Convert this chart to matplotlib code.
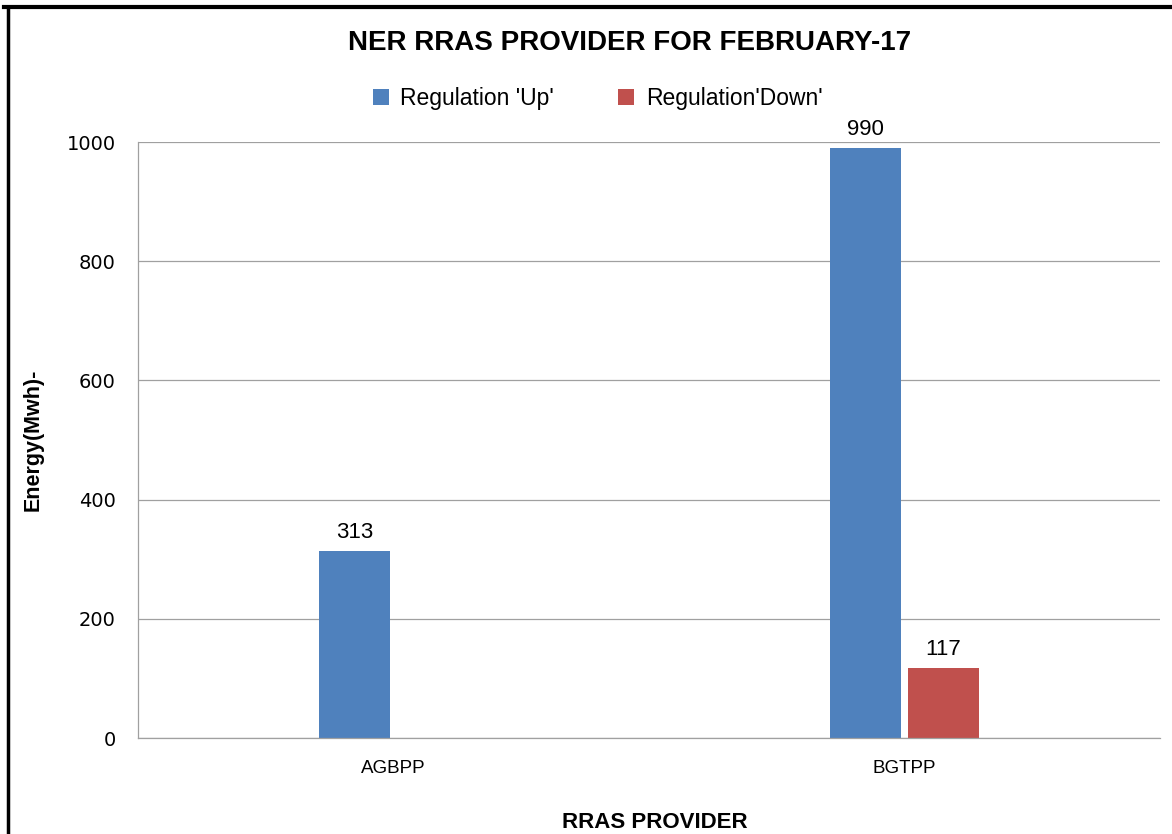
import matplotlib
matplotlib.use("Agg")
import matplotlib.pyplot as plt
from matplotlib.lines import Line2D
import numpy as np

providers = ["AGBPP", "BGTPP"]
reg_up = [313, 990]
reg_down = [0, 117]
series_names = ["Regulation 'Up'", "Regulation'Down'"]
colors = ["#4F81BD", "#C0504D"]

calib = ["Liberation Sans", "DejaVu Sans"]

fig = plt.figure(figsize=(11.72, 8.34), dpi=100)
ax = fig.add_axes([0.1177, 0.1151, 0.8723, 0.7146])

x = np.arange(len(providers))
w = 0.139
off = 0.076
b1 = ax.bar(x - off, reg_up, width=w, color=colors[0], label=series_names[0])
b2 = ax.bar(x + off, reg_down, width=w, color=colors[1], label=series_names[1])

for bars, vals in [(b1, reg_up), (b2, reg_down)]:
    for rect, v in zip(bars, vals):
        if v > 0:
            ax.text(rect.get_x() + rect.get_width() / 2, v + 14, str(v),
                    ha="center", va="bottom", fontsize=16, family=calib)

ax.set_xlim(-0.5, 1.5)
ax.set_ylim(0, 1000)
ax.set_yticks(range(0, 1001, 200))
ax.set_xticks(x)
ax.set_xticklabels(providers, family=calib, fontsize=13.5)
ax.tick_params(axis="y", labelsize=14, length=0, pad=16)
ax.tick_params(axis="x", length=0, pad=16)
for lbl in ax.get_yticklabels():
    lbl.set_family("DejaVu Sans")
ax.yaxis.grid(True, color="#a0a0a0", linewidth=0.9)
ax.set_axisbelow(True)
for s in ["top", "right"]:
    ax.spines[s].set_visible(False)
for s in ["left", "bottom"]:
    ax.spines[s].set_color("#a0a0a0")
    ax.spines[s].set_linewidth(0.9)

ax.set_ylabel("Energy(Mwh)-", fontsize=15.5, fontweight="bold", family=calib)
ax.yaxis.set_label_coords(-0.103, 0.5)
ax.set_xlabel("RRAS PROVIDER", fontsize=16, fontweight="bold", family=calib)
ax.xaxis.set_label_coords(0.506, -0.141)
ax.xaxis.label.set_va("center")
ax.yaxis.label.set_va("center")

fig.text(0.537, 0.949, "NER RRAS PROVIDER FOR FEBRUARY-17", ha="center", va="center",
         fontsize=20, fontweight="bold", family=calib)

leg = fig.legend(loc="center", bbox_to_anchor=(0.51, 0.882), ncol=2, frameon=False,
                 handlelength=0.7, handleheight=0.7, columnspacing=2.8,
                 handletextpad=0.5, prop={"family": calib, "size": 16.5})

# frame around the chart (top and left edges visible)
fig.add_artist(Line2D([0.003, 1.0], [0.9915, 0.9915], color="black", linewidth=3))
fig.add_artist(Line2D([0.0065, 0.0065], [0.0, 0.9915], color="black", linewidth=2.5))

fig.savefig("out.png", dpi=100)
